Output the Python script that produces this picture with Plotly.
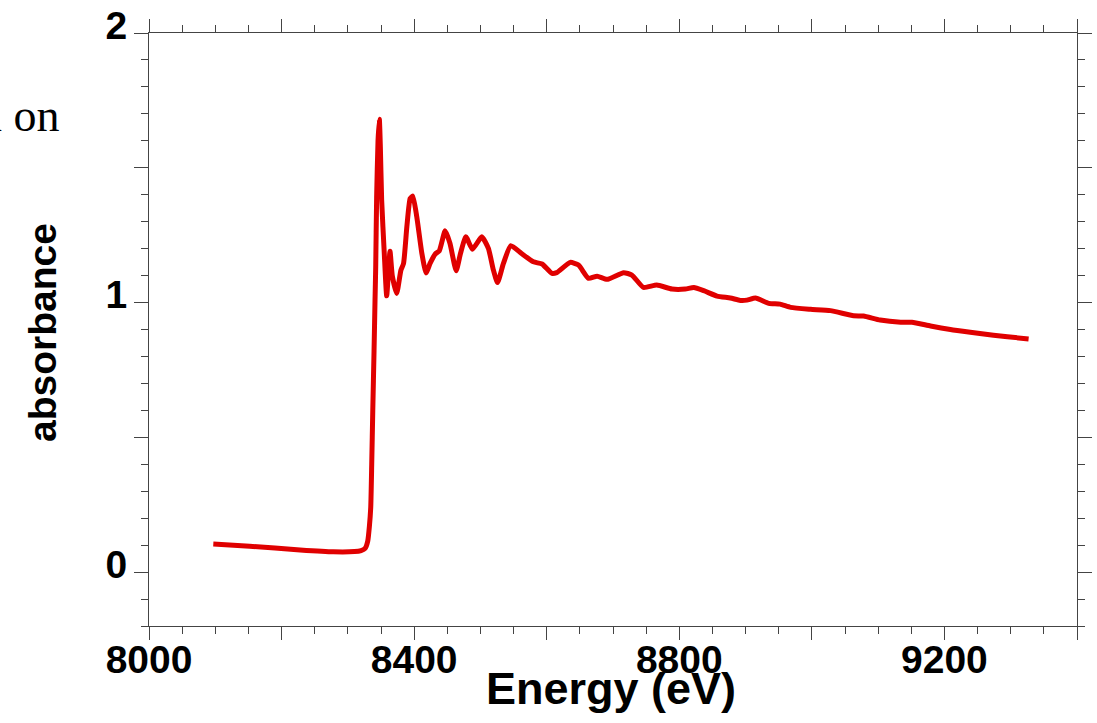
import plotly.graph_objects as go

# Data (energy in eV, absorbance)
energy = [8097, 8152, 8228, 8278, 8310, 8320, 8326, 8330, 8332.5, 8334.5, 8336, 8337.6,
          8339.5, 8341, 8342, 8343.4, 8345.5, 8347.5, 8349, 8351, 8355, 8358.6, 8363.6,
          8367, 8373.7, 8380, 8384, 8389, 8394, 8398, 8404, 8411.6, 8418, 8424, 8431.7,
          8438, 8446.8, 8454, 8463.4, 8470, 8478, 8488, 8502, 8512, 8519.6, 8525.8,
          8534.7, 8545.8, 8562, 8580, 8593, 8608, 8615, 8635.5, 8648, 8663, 8676, 8691,
          8716, 8728.5, 8746, 8766, 8789, 8809, 8822, 8837, 8857, 8877, 8892, 8902,
          8915, 8935, 8952, 8968, 8998, 9028, 9063, 9078, 9103, 9134, 9151, 9179,
          9209, 9239, 9274, 9295, 9327]
absorbance = [0.104, 0.096, 0.082, 0.075, 0.076, 0.080, 0.088, 0.115, 0.17, 0.24, 0.40, 0.60,
              0.82, 1.01, 1.13, 1.39, 1.60, 1.68, 1.58, 1.38, 1.18, 1.025, 1.19,
              1.10, 1.034, 1.12, 1.145, 1.281, 1.386, 1.395, 1.318, 1.183, 1.11, 1.145, 1.18,
              1.192, 1.266, 1.22, 1.118, 1.183, 1.244, 1.198, 1.244, 1.201, 1.12, 1.074,
              1.145, 1.211, 1.182, 1.151, 1.143, 1.108, 1.111, 1.149, 1.139, 1.09, 1.098, 1.086,
              1.111, 1.102, 1.056, 1.065, 1.05, 1.05, 1.056, 1.044, 1.024, 1.017, 1.008, 1.009,
              1.017, 0.997, 0.994, 0.982, 0.975, 0.970, 0.951, 0.95, 0.935, 0.927, 0.927, 0.913,
              0.90, 0.89, 0.879, 0.873, 0.865]

x_tickvals = [8000, 8200, 8400, 8600, 8800, 9000, 9200, 9400]
x_ticktext = ["8000", "", "8400", "", "8800", "", "9200", ""]
y_tickvals = [0, 0.5, 1, 1.5, 2]
y_ticktext = ["0", "", "1", "", "2"]

AXIS_COLOR = "#444444"
FONT = "Liberation Sans, Arial, sans-serif"

fig = go.Figure()
fig.add_trace(go.Scatter(x=energy, y=absorbance, mode="lines",
                         line=dict(color="#e00000", width=5, shape="spline", smoothing=0.5),
                         showlegend=False))

fig.update_layout(
    width=1097, height=723,
    margin=dict(l=149, r=20, t=33, b=97, autoexpand=False),
    paper_bgcolor="white", plot_bgcolor="white",
    xaxis=dict(
        range=[8000, 9400], showgrid=False, zeroline=False, automargin=False,
        showline=True, linecolor=AXIS_COLOR, linewidth=1, mirror="ticks",
        ticks="outside", ticklen=13, tickwidth=1, tickcolor=AXIS_COLOR,
        tickmode="array", tickvals=x_tickvals, ticktext=x_ticktext,
        tickfont=dict(family=FONT, size=39, color="black", weight="bold"),
        ticklabelstandoff=-14,
        minor=dict(tickmode="linear", tick0=8000, dtick=50, ticks="outside",
                   ticklen=7, tickwidth=1, tickcolor=AXIS_COLOR, showgrid=False),
    ),
    yaxis=dict(
        range=[-0.2, 2], showgrid=False, zeroline=False, automargin=False,
        showline=True, linecolor=AXIS_COLOR, linewidth=1, mirror="ticks",
        ticks="outside", ticklen=14, tickwidth=1, tickcolor=AXIS_COLOR,
        tickmode="array", tickvals=y_tickvals, ticktext=y_ticktext,
        tickfont=dict(family=FONT, size=39, color="black", weight="bold"),
        ticklabelshift=-8, ticklabelstandoff=-1,
        minor=dict(tickmode="linear", tick0=0, dtick=0.1, ticks="outside",
                   ticklen=7, tickwidth=1, tickcolor=AXIS_COLOR, showgrid=False),
    ),
)

# Axis titles
fig.add_annotation(text="Energy (eV)", xref="paper", yref="paper",
                   x=(611 - 149) / 928, y=(626 - 688) / 593,
                   xanchor="center", yanchor="middle", showarrow=False,
                   font=dict(family=FONT, size=45, color="black", weight="bold"))
fig.add_annotation(text="absorbance", xref="paper", yref="paper", textangle=-90,
                   x=(42 - 149) / 928, y=(626 - 333) / 593,
                   xanchor="center", yanchor="middle", showarrow=False,
                   font=dict(family=FONT, size=39, color="black", weight="bold"))

# Partial text cut at the left edge of the page
fig.add_annotation(text="n on", xref="paper", yref="paper",
                   x=(62 - 149) / 928, y=(626 - 115) / 593,
                   xanchor="right", yanchor="middle", showarrow=False,
                   font=dict(family="Liberation Serif, serif", size=46, color="black"))

fig.write_html("out.html")
